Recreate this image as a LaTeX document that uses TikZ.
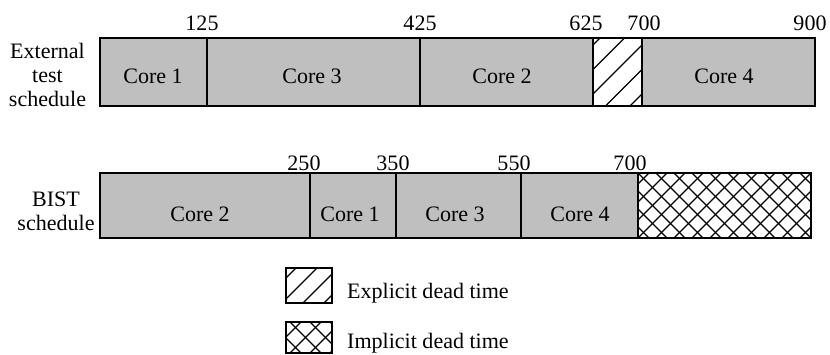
\documentclass[tikz,border=0pt]{standalone}
\usepackage{fontspec}
\setmainfont{Liberation Serif}
\begin{document}
\begin{tikzpicture}[x=0.3mm, y=-0.3mm,
    core/.style={draw=black, fill=black!25, line width=1.3pt},
    dead/.style={draw=black, fill=white, line width=1.3pt},
    hatch/.style={line width=1.1pt},
    txt/.style={font=\fontsize{18.8}{20.5}\selectfont, inner sep=0pt}]
  \useasboundingbox (0,0) rectangle (830,354);
  % external test schedule
  \draw[core] (100,38) rectangle (207,106);
  \draw[core] (207,38) rectangle (420,106);
  \draw[core] (420,38) rectangle (593,106);
  \draw[dead] (593,38) rectangle (642,106);
  \begin{scope}
    \clip (593,38) rectangle (642,106);
    \foreach \x in {532,556.5,...,640} \draw[hatch] (\x,106) -- ++(90,-90);
  \end{scope}
  \draw[core] (642,38) rectangle (815,106);
  \node[txt, align=center] (extlbl) at (47.5,75) {External\\test\\schedule};
  \node[txt, anchor=base] (ecore1) at (153,83) {Core 1};
  \node[txt, anchor=base] (ecore3) at (312,83) {Core 3};
  \node[txt, anchor=base] (ecore2) at (502,83) {Core 2};
  \node[txt, anchor=base] (ecore4) at (724,83) {Core 4};
  \node[txt, anchor=base] (e125) at (202,30) {125};
  \node[txt, anchor=base] (e425) at (420,30) {425};
  \node[txt, anchor=base] (e625) at (586,30) {625};
  \node[txt, anchor=base] (e700) at (644,30) {700};
  \node[txt, anchor=base] (e900) at (810,30) {900};
  % BIST schedule
  \draw[core] (100,173) rectangle (310,238);
  \draw[core] (310,173) rectangle (396,238);
  \draw[core] (396,173) rectangle (521,238);
  \draw[core] (521,173) rectangle (638,238);
  \draw[dead] (638,173) rectangle (811,238);
  \begin{scope}
    \clip (638,173) rectangle (811,238);
    \foreach \x in {566,584,...,820} {
      \draw[hatch] (\x,238) -- ++(70,-70);
      \draw[hatch] (\x,173) -- ++(70,70);
    }
  \end{scope}
  \draw[line width=1.3pt] (638,173) rectangle (811,238);
  \node[txt, align=center] (bistlbl) at (56,211) {BIST\\schedule};
  \node[txt, anchor=base] (bcore2) at (200,221) {Core 2};
  \node[txt, anchor=base] (bcore1) at (350,221) {Core 1};
  \node[txt, anchor=base] (bcore3) at (455,221) {Core 3};
  \node[txt, anchor=base] (bcore4) at (580,221) {Core 4};
  \node[txt, anchor=base] (b250) at (304,170) {250};
  \node[txt, anchor=base] (b350) at (393,170) {350};
  \node[txt, anchor=base] (b550) at (514,170) {550};
  \node[txt, anchor=base] (b700) at (630,170) {700};
  % legend
  \draw[dead] (286,268) rectangle (332,303);
  \begin{scope}
    \clip (286,268) rectangle (332,303);
    \foreach \x in {261,282,...,330} \draw[hatch] (\x,303) -- ++(45,-45);
  \end{scope}
  \draw[dead] (286,322) rectangle (332,353);
  \begin{scope}
    \clip (286,322) rectangle (332,353);
    \foreach \x in {250,270,...,340} {
      \draw[hatch] (\x,353) -- ++(40,-40);
      \draw[hatch] (\x,322) -- ++(40,40);
    }
  \end{scope}
  \draw[line width=1.3pt] (286,322) rectangle (332,353);
  \node[txt, anchor=base west] (lexp) at (347,298) {Explicit dead time};
  \node[txt, anchor=base west] (limp) at (347,348) {Implicit dead time};
\end{tikzpicture}
\end{document}
